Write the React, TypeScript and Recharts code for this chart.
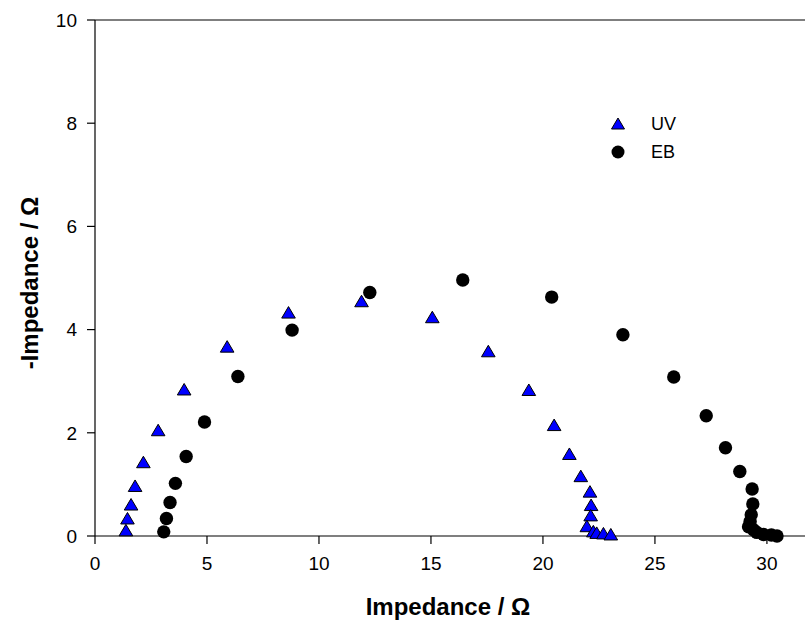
import React from "react";
import {
  ScatterChart,
  Scatter,
  XAxis,
  YAxis,
  ReferenceLine,
} from "recharts";

const uvX = [1.38, 1.45, 1.61, 1.79, 2.16, 2.82, 3.98, 5.9, 8.64, 11.9, 15.06, 17.56, 19.37, 20.5, 21.18, 21.69, 22.1, 22.15, 22.13, 21.96, 22.25, 22.4, 22.7, 23.03];
const uvY = [0.1, 0.33, 0.6, 0.96, 1.42, 2.04, 2.83, 3.66, 4.32, 4.54, 4.23, 3.57, 2.82, 2.14, 1.58, 1.15, 0.85, 0.59, 0.39, 0.18, 0.08, 0.05, 0.04, 0.02];

const ebX = [3.07, 3.19, 3.35, 3.59, 4.07, 4.89, 6.38, 8.8, 12.27, 16.42, 20.39, 23.57, 25.84, 27.29, 28.15, 28.79, 29.34, 29.37, 29.3, 29.25, 29.18, 29.4, 29.55, 29.85, 30.2, 30.45];
const ebY = [0.08, 0.34, 0.65, 1.02, 1.54, 2.21, 3.09, 3.99, 4.72, 4.96, 4.63, 3.9, 3.08, 2.33, 1.71, 1.25, 0.91, 0.62, 0.41, 0.28, 0.18, 0.12, 0.07, 0.03, 0.02, 0.0];

const xTicks = [0, 5, 10, 15, 20, 25, 30];
const yTicks = [0, 2, 4, 6, 8, 10];
const seriesNames = ["UV", "EB"];

const uvData = uvX.map((x, i) => ({ x, y: uvY[i] }));
const ebData = ebX.map((x, i) => ({ x, y: ebY[i] }));

const FONT = "'Liberation Sans', Arial, sans-serif";

const Tri = (props: any) => {
  const { cx, cy } = props;
  if (cx == null || cy == null) return null;
  return (
    <polygon
      points={`${cx},${cy - 6.5} ${cx - 6.8},${cy + 5} ${cx + 6.8},${cy + 5}`}
      fill="#0000ff"
      stroke="#000"
      strokeWidth={1}
    />
  );
};

const Dot = (props: any) => {
  const { cx, cy } = props;
  if (cx == null || cy == null) return null;
  return <circle cx={cx} cy={cy} r={6.7} fill="#000" />;
};

const LegendBox = () => (
  <div
    style={{
      position: "absolute",
      left: 608,
      top: 110,
      fontFamily: FONT,
      fontSize: 18,
      color: "#000",
    }}
  >
    {seriesNames.map((n, i) => (
      <div key={n} style={{ display: "flex", alignItems: "center", height: 28 }}>
        <svg width={20} height={20} style={{ marginRight: 23 }}>
          {i === 0 ? (
            <polygon points="10,4 3.5,15 16.5,15" fill="#0000ff" stroke="#000" strokeWidth={1} />
          ) : (
            <circle cx={10} cy={10} r={6.5} fill="#000" />
          )}
        </svg>
        <span>{n}</span>
      </div>
    ))}
  </div>
);

const YTitle = (props: any) => {
  const { viewBox } = props;
  const cy = viewBox ? viewBox.y + viewBox.height / 2 + 5 : 283;
  return (
    <text
      x={38}
      y={cy}
      transform={`rotate(-90, 38, ${cy})`}
      textAnchor="middle"
      fill="#000"
      fontSize={24}
      fontWeight="bold"
      fontFamily={FONT}
    >
      -Impedance / Ω
    </text>
  );
};

const XTitle = (props: any) => {
  const { viewBox } = props;
  const cx = viewBox ? viewBox.x + viewBox.width / 2 - 2 : 448;
  return (
    <text
      x={cx}
      y={615}
      textAnchor="middle"
      fill="#000"
      fontSize={24}
      fontWeight="bold"
      fontFamily={FONT}
    >
      Impedance / Ω
    </text>
  );
};

export default function App() {
  return (
    <div style={{ position: "absolute", left: 0, top: 0, width: 805, height: 625, background: "#fff" }}>
      <ScatterChart
        width={805}
        height={625}
        margin={{ top: 20, right: 0, left: 0, bottom: 0 }}
      >
        <XAxis
          type="number"
          dataKey="x"
          domain={[0, 31.7]}
          ticks={xTicks}
          allowDataOverflow
          height={89}
          tickSize={8}
          tickMargin={13}
          axisLine={{ stroke: "#000", strokeWidth: 1.2 }}
          tickLine={{ stroke: "#000", strokeWidth: 1.2 }}
          tick={{ fill: "#000", fontSize: 19, fontFamily: FONT }}
          label={<XTitle />}
        />
        <YAxis
          type="number"
          dataKey="y"
          domain={[0, 10]}
          ticks={yTicks}
          width={95}
          tickSize={8}
          tickMargin={10}
          axisLine={{ stroke: "#000", strokeWidth: 1.2 }}
          tickLine={{ stroke: "#000", strokeWidth: 1.2 }}
          tick={{ fill: "#000", fontSize: 19, fontFamily: FONT }}
          label={<YTitle />}
        />
        <ReferenceLine y={10} stroke="#000" strokeWidth={1.2} />
        <Scatter name="UV" data={uvData} shape={<Tri />} isAnimationActive={false} />
        <Scatter name="EB" data={ebData} shape={<Dot />} isAnimationActive={false} />
      </ScatterChart>
      <LegendBox />
    </div>
  );
}
